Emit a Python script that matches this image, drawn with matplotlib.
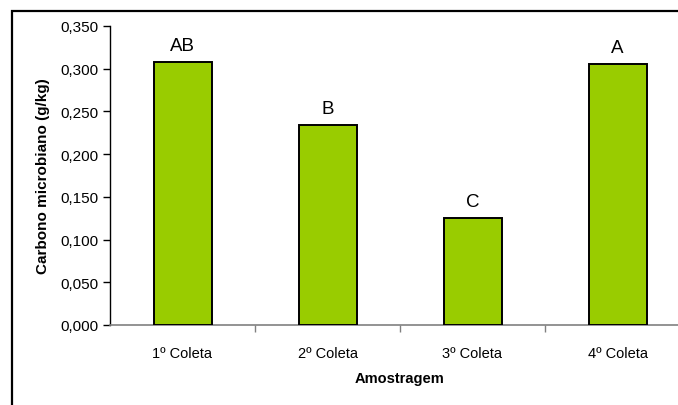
import matplotlib
matplotlib.use("Agg")
import matplotlib.pyplot as plt
from matplotlib.patches import Rectangle
from matplotlib.ticker import FuncFormatter, MultipleLocator

coletas = ["1º Coleta", "2º Coleta", "3º Coleta", "4º Coleta"]
carbono = [0.308, 0.234, 0.125, 0.305]
letras = ["AB", "B", "C", "A"]

plt.rcParams["font.family"] = ["Liberation Sans", "DejaVu Sans"]

fig = plt.figure(figsize=(6.78, 4.06), dpi=100)
# outer chart frame (cropped on right and bottom, as in the reference)
fig.patches.append(Rectangle((12 / 678, -0.1), 1.2, 1 - 12 / 406 + 0.1, transform=fig.transFigure,
                             fill=False, edgecolor="black", linewidth=1.6))

ax = fig.add_axes([110 / 678, 80 / 406, 580 / 678, 299 / 406])
x = list(range(len(coletas)))
ax.bar(x, carbono, width=0.4, color="#99CC00", edgecolor="black", linewidth=1.4, zorder=3)
for xi, v, l in zip(x, carbono, letras):
    ax.annotate(l, (xi, v), xytext=(0, 6), textcoords="offset points", ha="center", va="bottom", fontsize=13.5)

ax.set_xlim(-0.5, 3.5); ax.set_ylim(0, 0.35)
ax.yaxis.set_major_locator(MultipleLocator(0.05))
ax.yaxis.set_major_formatter(FuncFormatter(lambda v, p: f"{v:.3f}".replace(".", ",")))
ax.set_xticks([0.5, 1.5, 2.5])
ax.set_xticklabels([])
ax.set_xticks(x, minor=True)
ax.set_xticklabels(coletas, minor=True, fontsize=10.5)
ax.tick_params(axis="x", which="minor", length=0, pad=15)
ax.tick_params(axis="x", which="major", length=5, color="#808080", width=1)
ax.tick_params(axis="y", length=5, width=1, labelsize=11, pad=3)

for s in ["top", "right"]:
    ax.spines[s].set_visible(False)
ax.spines["left"].set_linewidth(1); ax.spines["left"].set_color("black")
ax.spines["bottom"].set_linewidth(1.2); ax.spines["bottom"].set_color("#808080")

ax.set_ylabel("Carbono microbiano (g/kg)", fontsize=11, fontweight="bold", labelpad=8)
ax.set_xlabel("Amostragem", fontsize=10.5, fontweight="bold")
ax.xaxis.set_label_coords((400 - 110) / 580, -46 / 299)

fig.savefig("out.png", dpi=100)
